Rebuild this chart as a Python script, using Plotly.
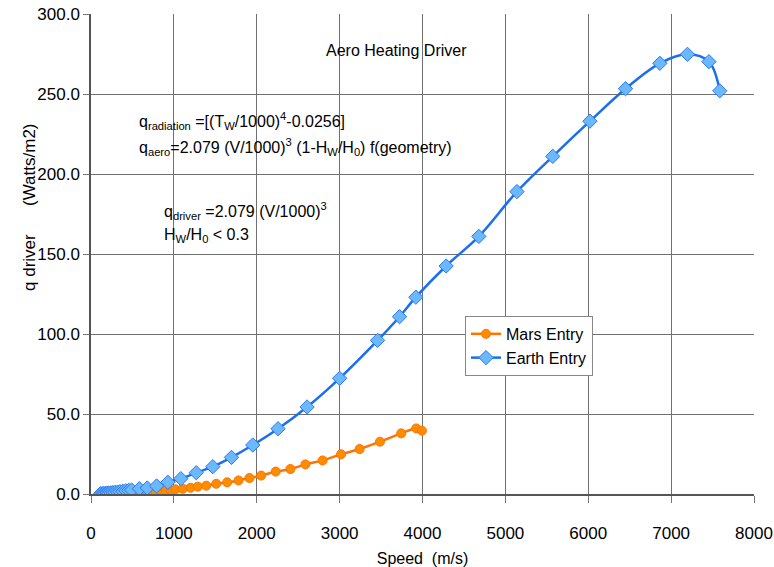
import plotly.graph_objects as go

# ---- data ----
earth_speed = [115, 135, 155, 175, 195, 215, 240, 265, 290, 320, 350, 385, 420, 455, 490,
               583, 679, 792, 928, 1084, 1270, 1470, 1695, 1952, 2257, 2607, 3000, 3458,
               3723, 3920, 4285, 4680, 5140, 5572, 6020, 6450, 6864, 7197, 7456, 7587]
earth_q = [0.2, 0.25, 0.3, 0.35, 0.45, 0.55, 0.7, 0.85, 1.0, 1.2, 1.45, 1.7, 2.0, 2.25, 2.5,
           3.3, 3.75, 5.0, 7.3, 9.6, 13.3, 17.1, 22.9, 30.6, 40.8, 54.4, 72.3, 96.0,
           110.8, 123.0, 142.5, 161.0, 189.0, 211.0, 233.0, 253.3, 269.2, 274.8, 270.2, 252.0]

mars_speed = [480, 530, 580, 630, 680, 730, 780, 840, 900, 960, 1020, 1108, 1201, 1289, 1390,
              1511, 1643, 1780, 1912, 2053, 2229, 2406, 2587, 2795, 3017, 3241, 3487, 3743,
              3924, 3993]
mars_q = [0.3, 0.45, 0.6, 0.8, 1.0, 1.2, 1.45, 1.75, 2.05, 2.4, 2.9, 3.3, 3.9, 4.6, 5.2,
          6.4, 7.3, 8.5, 10.0, 11.5, 14.0, 15.6, 18.5, 21.0, 24.8, 28.1, 32.7, 37.9,
          41.0, 39.6]

x_ticks = [0, 1000, 2000, 3000, 4000, 5000, 6000, 7000, 8000]
y_ticks = [0, 50, 100, 150, 200, 250, 300]

FONT = "Liberation Sans, Arial, sans-serif"

fig = go.Figure()
fig.add_trace(go.Scatter(
    x=mars_speed, y=mars_q, name="Mars Entry", mode="lines+markers",
    line=dict(color="#ff7300", width=2.5, shape="spline"),
    marker=dict(symbol="circle", size=9, color="#ff8c00",
                line=dict(color="#ff7300", width=1)),
))
fig.add_trace(go.Scatter(
    x=earth_speed, y=earth_q, name="Earth Entry", mode="lines+markers",
    line=dict(color="#1a6ef0", width=2.5, shape="spline"),
    marker=dict(symbol="diamond", size=11, color="#6cb8ff",
                line=dict(color="#2a7af0", width=1)),
))

fig.update_layout(
    width=774, height=567,
    margin=dict(l=91, r=20, t=14, b=73, autoexpand=False),
    paper_bgcolor="white", plot_bgcolor="white",
    font=dict(family=FONT, size=16, color="#000000"),
    showlegend=True,
    legend=dict(x=(465 - 91) / 663, y=0.371, xanchor="left", yanchor="top",
                bgcolor="white", bordercolor="#888888", borderwidth=1,
                font=dict(size=16), tracegroupgap=0, itemwidth=30),
    xaxis=dict(range=[0, 8000], tickvals=x_ticks, ticktext=[str(v) for v in x_ticks],
               automargin=False,
               showgrid=True, gridcolor="#707070", gridwidth=1,
               showline=True, linecolor="#555555", linewidth=1.5,
               ticks="outside", ticklen=7, tickcolor="#777777",
               ticklabelstandoff=16,
               zeroline=False,
               title=dict(text="Speed  (m/s)", font=dict(size=16), standoff=12),
               tickfont=dict(size=17)),
    yaxis=dict(range=[0, 300], tickvals=y_ticks, ticktext=[f"{v:.1f}" for v in y_ticks],
               automargin=False,
               showgrid=True, gridcolor="#707070", gridwidth=1,
               showline=True, linecolor="#555555", linewidth=1.5,
               ticks="outside", ticklen=6, tickcolor="#777777",
               zeroline=False, tickfont=dict(size=17)),
)

ann = [
    dict(text="Aero Heating Driver", x=(396 - 91) / 663, y=(494 - 51) / 480,
         xanchor="center", yanchor="middle"),
    dict(text="q<sub>radiation</sub> =[(T<sub>W</sub>/1000)<sup>4</sup>-0.0256]",
         x=(137 - 91) / 663, y=(494 - 121) / 480, xanchor="left", yanchor="middle"),
    dict(text="q<sub>aero</sub>=2.079 (V/1000)<sup>3</sup> (1-H<sub>W</sub>/H<sub>0</sub>) f(geometry)",
         x=(137 - 91) / 663, y=(494 - 147) / 480, xanchor="left", yanchor="middle"),
    dict(text="q<sub>driver</sub> =2.079 (V/1000)<sup>3</sup>",
         x=(162 - 91) / 663, y=(494 - 211) / 480, xanchor="left", yanchor="middle"),
    dict(text="H<sub>W</sub>/H<sub>0</sub> &lt; 0.3",
         x=(162 - 91) / 663, y=(494 - 235) / 480, xanchor="left", yanchor="middle"),
    dict(text="q driver" + "\u00a0" * 6 + "(Watts/m2)", textangle=-90,
         x=-(91 - 29) / 663, y=(494 - 207) / 480, xanchor="center", yanchor="middle",
         font=dict(size=17)),
]
for a in ann:
    a.setdefault("font", dict(size=16))
    fig.add_annotation(xref="paper", yref="paper", showarrow=False, **a)

# remove the default 8px body margin so the figure sits at the page's top-left
fig.write_html("out.html", config={"displayModeBar": False},
               post_script="document.body.style.margin='0';")
